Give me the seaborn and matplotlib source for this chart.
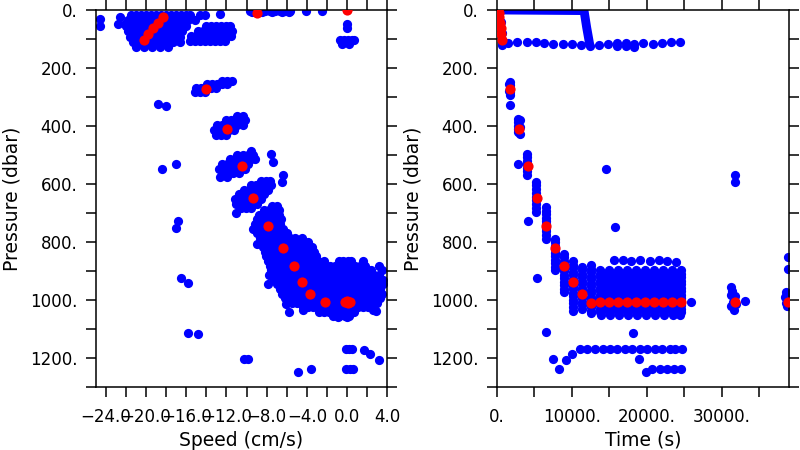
import pandas as pd
import seaborn as sns
import matplotlib
matplotlib.use('Agg')
from matplotlib import pyplot as plt
from matplotlib.ticker import MultipleLocator, FuncFormatter

# ---------------- left panel: speed (cm/s) vs pressure (dbar) ----------------
# clusters written as (pressure, [speeds]) rows
surf_rows = [
    (18, [-21.5, -21.0, -20.5, -20.0, -19.5, -19.0, -18.5, -18.0, -17.5, -17.0, -16.5, -16.0, -15.6, -14.6, -14.1]),
    (36, [-21.8, -21.3, -20.8, -20.3, -19.8, -19.3, -18.8, -18.3, -17.8, -17.3, -16.8, -16.3, -15.8, -15.1]),
    (55, [-22.0, -21.5, -21.0, -20.5, -20.0, -19.5, -19.0, -18.5, -18.0, -17.5, -17.0, -16.5, -16.0]),
    (74, [-21.8, -21.3, -20.8, -20.3, -19.8, -19.3, -18.8, -18.3, -17.8, -17.3, -16.8, -16.4]),
    (93, [-21.6, -21.1, -20.6, -20.1, -19.6, -19.1, -18.6, -18.1, -17.6, -17.1, -16.6]),
    (111, [-21.3, -20.8, -20.3, -19.8, -19.3, -18.8, -18.3, -17.8, -17.3, -16.6]),
    (126, [-21.0, -20.2, -19.4, -18.6, -17.8]),
]
surf2_rows = [
    (55, [-14.0, -13.5, -13.0, -12.5, -12.0, -11.6]),
    (72, [-14.8, -14.3, -13.8, -13.3, -12.8, -12.3, -11.8, -11.4]),
    (90, [-15.5, -15.0, -14.5, -14.0, -13.5, -13.0, -12.5, -12.0, -11.5]),
    (108, [-15.6, -15.1, -14.6, -14.1, -13.6, -13.1, -12.6, -12.1]),
]
top_rows = [
    (3, [-9.7, -9.2, -8.7, -8.2, -7.7, -7.2, -6.7, -6.2, -5.7, -4.1, -2.5]),
    (8, [-9.5, -8.5, -7.5, -6.5, -5.8]),
    (48, [0.0]), (62, [0.0]),
    (105, [-0.75, -0.35, 0.05, 0.45, 0.7]),
    (117, [-0.5, 0.2]),
]
c270_rows = [
    (243, [-12.4, -11.9, -11.4]),
    (256, [-13.9, -13.4, -12.9, -12.4, -11.9]),
    (270, [-15.0, -14.5, -14.0, -13.5, -13.0]),
    (284, [-15.1, -14.6, -14.1]),
]
c400_rows = [
    (364, [-10.9, -10.4]),
    (380, [-12.0, -11.5, -11.0, -10.5, -10.2]),
    (397, [-12.9, -12.4, -11.9, -11.4, -10.9, -10.4]),
    (414, [-13.2, -12.7, -12.2, -11.7, -11.2]),
    (431, [-13.0, -12.5, -12.0]),
]
c540_rows = [
    (487, [-9.6]),
    (500, [-10.9, -10.4, -9.9, -9.4]),
    (515, [-11.6, -11.1, -10.6, -10.1, -9.6, -9.2]),
    (531, [-12.4, -11.9, -11.4, -10.9, -10.4, -9.9]),
    (547, [-12.7, -12.2, -11.7, -11.2, -10.7, -10.2]),
    (562, [-12.3, -11.8, -11.3, -10.8]),
    (575, [-12.6, -11.9]),
]
c650_rows = [
    (590, [-8.6, -8.1, -7.7]),
    (604, [-9.6, -9.1, -8.6, -8.1, -7.6]),
    (619, [-10.3, -9.8, -9.3, -8.8, -8.3, -7.9]),
    (635, [-10.8, -10.3, -9.8, -9.3, -8.8, -8.3]),
    (651, [-11.1, -10.6, -10.1, -9.6, -9.1, -8.6]),
    (667, [-11.0, -10.5, -10.0, -9.5, -9.0]),
    (683, [-10.6, -10.1, -9.6]),
    (700, [-11.0]),
]
c745_rows = [
    (676, [-7.5, -7.0]),
    (690, [-8.3, -7.8, -7.3, -6.8]),
    (705, [-8.8, -8.3, -7.8, -7.3, -6.8]),
    (721, [-9.0, -8.5, -8.0, -7.5, -7.0, -6.6]),
    (737, [-9.2, -8.7, -8.2, -7.7, -7.2, -6.7]),
    (753, [-9.4, -8.9, -8.4, -7.9, -7.4, -6.9, -6.4]),
    (769, [-9.0, -8.5, -8.0, -7.5, -7.0, -6.5, -6.0]),
]
deep_rows = [
    (785, [-8.7, -8.2, -7.7, -7.2, -6.7, -6.2, -5.7, -5.2, -4.5]),
    (801, [-8.5, -8.0, -7.5, -7.0, -6.5, -6.0, -5.5, -5.0, -4.5, -3.9]),
    (817, [-8.4, -7.9, -7.4, -6.9, -6.4, -5.9, -5.4, -4.9, -4.4, -3.9, -3.5]),
    (833, [-8.2, -7.7, -7.2, -6.7, -6.2, -5.7, -5.2, -4.7, -4.2, -3.7, -3.3]),
    (849, [-8.1, -7.6, -7.1, -6.6, -6.1, -5.6, -5.1, -4.6, -4.1, -3.6, -3.1]),
    (865, [-7.9, -7.4, -6.9, -6.4, -5.9, -5.4, -4.9, -4.4, -3.9, -3.4, -2.9, -2.3, -0.8, -0.4, 0.1, 0.4, 1.6]),
    (881, [-7.7, -7.2, -6.7, -6.2, -5.7, -5.2, -4.7, -4.2, -3.7, -3.2, -2.7, -2.2, -1.7, -1.2, -0.7, -0.2,
           0.3, 0.8, 1.3, 1.8, 3.2]),
    (897, [-7.6, -7.1, -6.6, -6.1, -5.6, -5.1, -4.6, -4.1, -3.6, -3.1, -2.6, -2.1, -1.6, -1.1, -0.6, -0.1,
           0.4, 0.9, 1.4, 1.9, 2.4, 3.5]),
    (913, [-7.8, -7.3, -6.8, -6.3, -5.8, -5.3, -4.8, -4.3, -3.8, -3.3, -2.8, -2.3, -1.8, -1.3, -0.8, -0.3,
           0.2, 0.7, 1.2, 1.7, 2.2, 2.7, 3.2]),
    (929, [-7.3, -6.8, -6.3, -5.8, -5.3, -4.8, -4.3, -3.8, -3.3, -2.8, -2.3, -1.8, -1.3, -0.8, -0.3, 0.2,
           0.7, 1.2, 1.7, 2.2, 2.7, 3.2, 3.6]),
    (945, [-7.0, -6.5, -6.0, -5.5, -5.0, -4.5, -4.0, -3.5, -3.0, -2.5, -2.0, -1.5, -1.0, -0.5, 0.0, 0.5,
           1.0, 1.5, 2.0, 2.5, 3.0, 3.6]),
    (961, [-6.7, -6.2, -5.7, -5.2, -4.7, -4.2, -3.7, -3.2, -2.7, -2.2, -1.7, -1.2, -0.7, -0.2, 0.3, 0.8,
           1.3, 1.8, 2.3, 2.8, 3.3]),
    (977, [-6.5, -6.0, -5.5, -5.0, -4.5, -4.0, -3.5, -3.0, -2.5, -2.0, -1.5, -1.0, -0.5, 0.0, 0.5, 1.0,
           1.5, 2.0, 2.5, 3.0, 3.5]),
    (993, [-6.2, -5.7, -5.2, -4.7, -4.2, -3.7, -3.2, -2.7, -2.2, -1.7, -1.2, -0.7, -0.2, 0.3, 0.8, 1.3,
           1.8, 2.3, 2.8, 3.3]),
    (1009, [-5.5, -5.0, -4.5, -4.0, -3.5, -3.0, -2.5, -2.0, -1.5, -1.0, -0.5, 0.0, 0.5, 1.0, 1.5, 2.0,
            2.5, 3.0]),
    (1025, [-4.4, -3.9, -3.4, -2.9, -2.4, -1.9, -1.4, -0.9, -0.4, 0.1, 0.6, 1.1, 1.6, 2.1]),
    (1041, [-2.8, -2.3, -1.8, -1.3, -0.8, -0.3, 0.2, 0.7]),
    (1055, [-1.4, -0.8, -0.2, 0.2]),
]
# scattered single points
odd_spd = [-24.6, -24.6, -22.8, -22.1, -22.6, -12.6, -18.8, -18.0, -18.4, -17.0, -7.6, -7.4, -6.4, -6.5,
           -16.8, -17.0, -16.5, -15.8, -9.0, -7.9, -6.1, -5.8, -4.4, 2.9, 2.6, -0.9, 0.0,
           -15.8, -14.8, -10.3, -9.9, -4.9, -3.6, -0.1, 0.2, 0.5, -0.1, 0.25, 0.6, 1.7, 2.3, 3.2]
odd_prs = [32, 55, 48, 48, 25, 14, 325, 331, 548, 529, 497, 523, 569, 593,
           727, 751, 923, 939, 807, 943, 1014, 1042, 1032, 1038, 1034, 1057, 1057,
           1112, 1115, 1203, 1203, 1247, 1236, 1169, 1169, 1169, 1238, 1238, 1238, 1172, 1186, 1207]

spd_mean = [0.0, -9.0, -18.3, -18.8, -19.3, -19.8, -20.2, -14.0, -11.9, -10.5, -9.4, -7.9, -6.4, -5.3,
            -4.5, -3.7, -2.2, -0.2, 0.0, 0.2, 0.3, 0.1]
prs_mean = [0, 9, 25, 44, 63, 84, 103, 272, 411, 537, 649, 745, 820, 883,
            937, 979, 1006, 1006, 1004, 1007, 1005, 1008]

# ---------------- right panel: time (s) vs pressure (dbar) ----------------
# first descent, dense stream of samples just below the surface
top_line_t = [700, 11650, 12000, 12400]
top_line_p = [0, 2, 60, 118]
first_t = [560, 640, 720]
first_p = [40, 80, 112]
row115_t = [667, 1560, 2760, 4000, 5200, 6350, 7550, 8800, 10000, 11200, 12440, 13640, 14800, 16000,
            17200, 18350, 19550, 20800, 22000, 23200, 24440, 16000, 17200, 18350]
row115_p = [121, 113, 109, 109, 111, 115, 117, 118, 118, 121, 123, 121, 118, 115,
            115, 117, 115, 117, 113, 109, 109, 124, 124, 126]
# (time, [pressures]) for each profile on the way down
early_cols = [
    (1750, [248, 260, 272, 284, 294]),
    (1650, [254, 278]),
    (1750, [328]),
    (2880, [374, 386, 398, 410, 422]),
    (3050, [380, 404, 428]),
    (2880, [529]),
    (4100, [495, 507, 519, 531, 543, 555, 567]),
    (4133, [727]),
    (5300, [591, 604, 617, 630, 643, 656, 669, 682, 695]),
    (5330, [923]),
    (6550, [679, 691, 703, 715, 727, 739, 751, 763, 775, 788]),
    (7750, [788, 800, 812, 824, 836, 848, 860, 872, 884, 896]),
    (8950, [840, 852, 864, 876, 888, 900, 912, 924, 936, 948, 960, 971]),
    (10130, [866, 878, 890, 902, 914, 926, 938, 950, 962, 974, 986, 998, 1010, 1022, 1036]),
    (11330, [885, 897, 909, 921, 933, 945, 957, 969, 981, 993, 1005, 1017, 1029]),
    (12560, [880, 892, 904, 916, 928, 940, 952, 964, 976, 988, 1000, 1012, 1024, 1036, 1045]),
]
# profiles sitting at the bottom
deep_t_a = [13770, 14970, 16170, 17370, 18530, 19730, 20930, 22130, 23330, 24530]
deep_t_b = [13900, 15100, 16300, 17500, 18660, 19860, 21060, 22260, 23460, 24400]
deep_p_a = [897, 909, 921, 933, 945, 957, 969, 981, 993, 1005, 1017, 1029, 1041]
deep_p_b = [903, 915, 927, 939, 951, 963, 975, 987, 999, 1011, 1023, 1035, 1050]
row866_t = [15700, 16800, 17950, 19150, 20400, 21600, 22700, 23900]
row866_p = [862, 862, 864, 862, 864, 862, 866, 868]
row1169_t = [11110, 12080, 13100, 14130, 15100, 16080, 17100, 18080, 19100, 20080, 21100, 22080, 23100,
             23780, 24670]
row1238_t = [20750, 21730, 22670, 23640, 24530]
late_t = [31200, 31400, 31300, 31600, 31500, 31300, 31600, 31900, 31800, 31770, 31770,
          38880, 38880, 38550, 38500, 38550, 38900, 38700]
late_p = [955, 968, 981, 994, 1006, 1019, 1032, 1012, 985, 569, 594,
          851, 893, 972, 990, 1008, 985, 1020]
odd_t = [14573, 15773, 6533, 18133, 7467, 8347, 9240, 10093, 19013, 19907, 25880, 33107]
odd_p = [548, 749, 1111, 1113, 1203, 1236, 1207, 1186, 1203, 1247, 1006, 1004]

t_mean = [200, 280, 350, 430, 520, 610, 700, 1770, 2970, 4130, 5330, 6570, 7770, 8970, 10130, 11330,
          12570, 13770, 14970, 16170, 17370, 18530, 19730, 20930, 22130, 23330, 24530, 31730, 38880]
p_mean = [0, 9, 25, 44, 63, 84, 103, 272, 411, 538, 649, 745, 820, 882, 937, 979,
          1008, 1007, 1006, 1006, 1006, 1007, 1006, 1007, 1006, 1006, 1006, 1007, 1005]


def rows_xy(rows):
    xs, ys = [], []
    for p, vals in rows:
        xs += vals
        ys += [p] * len(vals)
    return xs, ys


def cols_xy(cols):
    xs, ys = [], []
    for t, vals in cols:
        xs += [t] * len(vals)
        ys += vals
    return xs, ys


left = []
for rows in [surf_rows, surf2_rows, top_rows, c270_rows, c400_rows, c540_rows, c650_rows, c745_rows, deep_rows]:
    x, y = rows_xy(rows)
    left.append(pd.DataFrame({'spd': x, 'prs': y}))
left.append(pd.DataFrame({'spd': odd_spd, 'prs': odd_prs}))
df_left = pd.concat(left, ignore_index=True)

right = []
x, y = cols_xy(early_cols)
right.append(pd.DataFrame({'t': x, 'prs': y}))
x, y = cols_xy([(t, deep_p_a) for t in deep_t_a] + [(t, deep_p_b) for t in deep_t_b])
right.append(pd.DataFrame({'t': x, 'prs': y}))
right.append(pd.DataFrame({'t': first_t, 'prs': first_p}))
right.append(pd.DataFrame({'t': row115_t, 'prs': row115_p}))
right.append(pd.DataFrame({'t': row866_t, 'prs': row866_p}))
right.append(pd.DataFrame({'t': row1169_t, 'prs': [1169] * len(row1169_t)}))
right.append(pd.DataFrame({'t': row1238_t, 'prs': [1238] * len(row1238_t)}))
right.append(pd.DataFrame({'t': late_t, 'prs': late_p}))
right.append(pd.DataFrame({'t': odd_t, 'prs': odd_p}))
df_right = pd.concat(right, ignore_index=True)

sns.set_theme(style="ticks")
plt.rcParams['font.family'] = ['DejaVu Sans']
plt.rcParams['axes.unicode_minus'] = True

fig = plt.figure(figsize=(8, 4.5), dpi=100)
ax1 = fig.add_axes([0.1196, 0.1393, 0.3646, 0.8385])
ax2 = fig.add_axes([0.6209, 0.1393, 0.3654, 0.8385])

blue_s = 44
red_s = 54

sns.scatterplot(data=df_left, x='spd', y='prs', color='blue', s=blue_s, linewidth=0, ax=ax1, zorder=2, legend=False)
sns.scatterplot(x=spd_mean, y=prs_mean, color='red', s=red_s, linewidth=0, ax=ax1, zorder=3, legend=False)

sns.lineplot(x=top_line_t, y=top_line_p, color='blue', lw=6.4, sort=False, estimator=None, ax=ax2,
             zorder=2, solid_capstyle='round')
sns.scatterplot(data=df_right, x='t', y='prs', color='blue', s=blue_s, linewidth=0, ax=ax2, zorder=2, legend=False)
sns.scatterplot(x=t_mean, y=p_mean, color='red', s=red_s, linewidth=0, ax=ax2, zorder=3, legend=False)

ax1.set_xlim(-25, 4)
ax2.set_xlim(0, 39000)
for ax in [ax1, ax2]:
    ax.set_ylim(1300, 0)
    ax.yaxis.set_major_locator(MultipleLocator(200))
    ax.yaxis.set_minor_locator(MultipleLocator(100))
    ax.yaxis.set_major_formatter(FuncFormatter(lambda v, pos: '%d.' % v))
    ax.tick_params(which='both', direction='out', length=7.2, width=1.1, colors='black',
                   top=True, right=True, labeltop=False, labelright=False, labelsize=12)
    ax.tick_params(axis='y', pad=6)
    ax.tick_params(axis='x', pad=8)
    for sp in ax.spines.values():
        sp.set_linewidth(1.1)
        sp.set_color('black')
    ax.set_ylabel('Pressure (dbar)', fontsize=13.5, color='black')
    ax.yaxis.set_label_coords(-0.255, 0.5)
    ax.xaxis.set_label_coords(0.5, -0.115)

ax1.xaxis.set_major_locator(MultipleLocator(4))
ax1.xaxis.set_minor_locator(MultipleLocator(2))
ax1.xaxis.set_major_formatter(FuncFormatter(lambda v, pos: ('%.1f' % v).replace('-', '\u2212')))
ax2.xaxis.set_major_locator(MultipleLocator(10000))
ax2.xaxis.set_minor_locator(MultipleLocator(5000))
ax2.xaxis.set_major_formatter(FuncFormatter(lambda v, pos: '%d.' % v))

ax1.set_xlabel('Speed (cm/s)', fontsize=13.5, color='black')
ax2.set_xlabel('Time (s)', fontsize=13.5, color='black')

plt.savefig('out.png', dpi=100)
